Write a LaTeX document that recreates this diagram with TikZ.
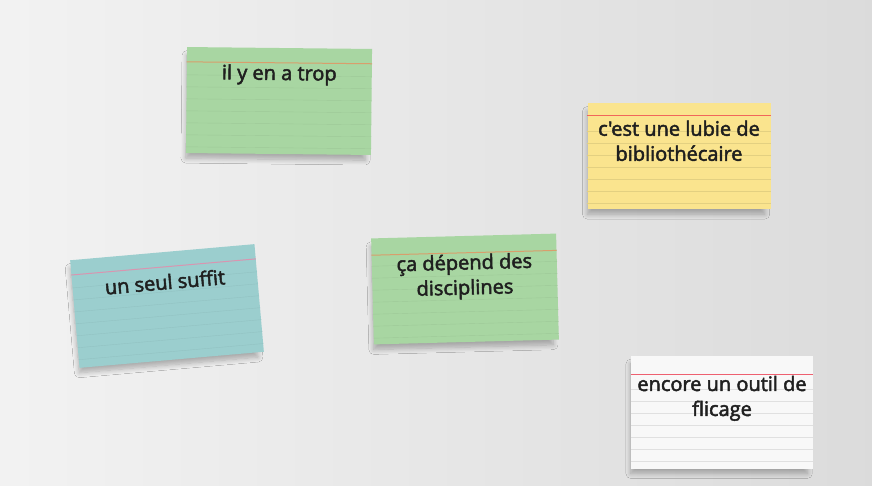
\documentclass[tikz,border=0pt]{standalone}
\usepackage{fontspec}
\setmainfont{Open Sans}
\newfontfamily\cardfont{Open Sans}[FakeBold=2.4]
\usetikzlibrary{calc}
\usetikzlibrary{shadows.blur}
\usetikzlibrary{positioning}
\definecolor{cardgreen}{HTML}{A8D6A2}
\definecolor{cardyellow}{HTML}{FAE48E}
\definecolor{cardblue}{HTML}{9BCECE}
\definecolor{cardwhite}{HTML}{F8F8F8}
\definecolor{marginorange}{HTML}{D99E6C}
\definecolor{marginpink}{HTML}{D995B0}
\definecolor{marginred}{HTML}{EE6070}

\begin{document}
\begin{tikzpicture}[x=1pt,y=-1pt,
	card/.style={minimum width=185pt, minimum height=106pt, inner sep=0pt,
		blur shadow={shadow blur steps=8, shadow opacity=28, shadow scale=0.97, shadow xshift=-3pt, shadow yshift=-7pt, shadow blur radius=5pt}},
	cardtext/.style={align=center, font=\cardfont\fontsize{20}{25}\selectfont, text=black!88, inner sep=0pt},
	rule/.style={line width=0.4pt}]
	% background
	\useasboundingbox (0,0) rectangle (872,486);
	\shade[left color=black!5, right color=black!14] (0,0) rectangle (872,486);
	% draw cards
	\node[card, fill=cardgreen, rotate=-0.6] (trop) at (279,101) {};
	\node[card, fill=cardyellow, minimum width=183pt] (lubie) at (679,156) {};
	\node[card, fill=cardblue, minimum height=108pt, rotate=5] (suffit) at (167,306) {};
	\node[card, fill=cardgreen, rotate=1.5] (disciplines) at (465,289) {};
	\node[card, fill=cardwhite, minimum width=182pt, minimum height=113pt] (flicage) at (722,412) {};
	% add rulings
	\foreach \d in {28,40,...,100} {
		\draw[rule, cardgreen!94!black] ($(trop.north west)!\d pt!(trop.south west)$) -- ($(trop.north east)!\d pt!(trop.south east)$);
		\draw[rule, cardyellow!91!black] ($(lubie.north west)!\d pt!(lubie.south west)$) -- ($(lubie.north east)!\d pt!(lubie.south east)$);
		\draw[rule, cardblue!94!black] ($(suffit.north west)!\d pt!(suffit.south west)$) -- ($(suffit.north east)!\d pt!(suffit.south east)$);
		\draw[rule, cardgreen!94!black] ($(disciplines.north west)!\d pt!(disciplines.south west)$) -- ($(disciplines.north east)!\d pt!(disciplines.south east)$);
		\draw[rule, black!12] ($(flicage.north west)!\d+6 pt!(flicage.south west)$) -- ($(flicage.north east)!\d+6 pt!(flicage.south east)$);
	}
	% add margin lines
	\draw[line width=1pt, marginorange] ($(trop.north west)!15pt!(trop.south west)$) -- ($(trop.north east)!15pt!(trop.south east)$);
	\draw[line width=1pt, marginred!80!orange] ($(lubie.north west)!13pt!(lubie.south west)$) -- ($(lubie.north east)!13pt!(lubie.south east)$);
	\draw[line width=1pt, marginpink] ($(suffit.north west)!15pt!(suffit.south west)$) -- ($(suffit.north east)!15pt!(suffit.south east)$);
	\draw[line width=1pt, marginorange] ($(disciplines.north west)!17pt!(disciplines.south west)$) -- ($(disciplines.north east)!17pt!(disciplines.south east)$);
	\draw[line width=1pt, marginred] ($(flicage.north west)!19pt!(flicage.south west)$) -- ($(flicage.north east)!19pt!(flicage.south east)$);
	% write texts
	\node[cardtext, rotate=-0.6] (trop-text) at ($(trop.north)!27pt!(trop.south)$) {il y en a trop};
	\node[cardtext] (lubie-text) at ($(lubie.north)!38pt!(lubie.south)$) {c'est une lubie de\\bibliothécaire};
	\node[cardtext, rotate=5] (suffit-text) at ($(suffit.north)!30pt!(suffit.south)$) {un seul suffit};
	\node[cardtext, rotate=1.5] (disciplines-text) at ($(disciplines.north)!41pt!(disciplines.south)$) {ça dépend des\\disciplines};
	\node[cardtext] (flicage-text) at ($(flicage.north)!43pt!(flicage.south)$) {encore un outil de\\flicage};
\end{tikzpicture}
\end{document}
